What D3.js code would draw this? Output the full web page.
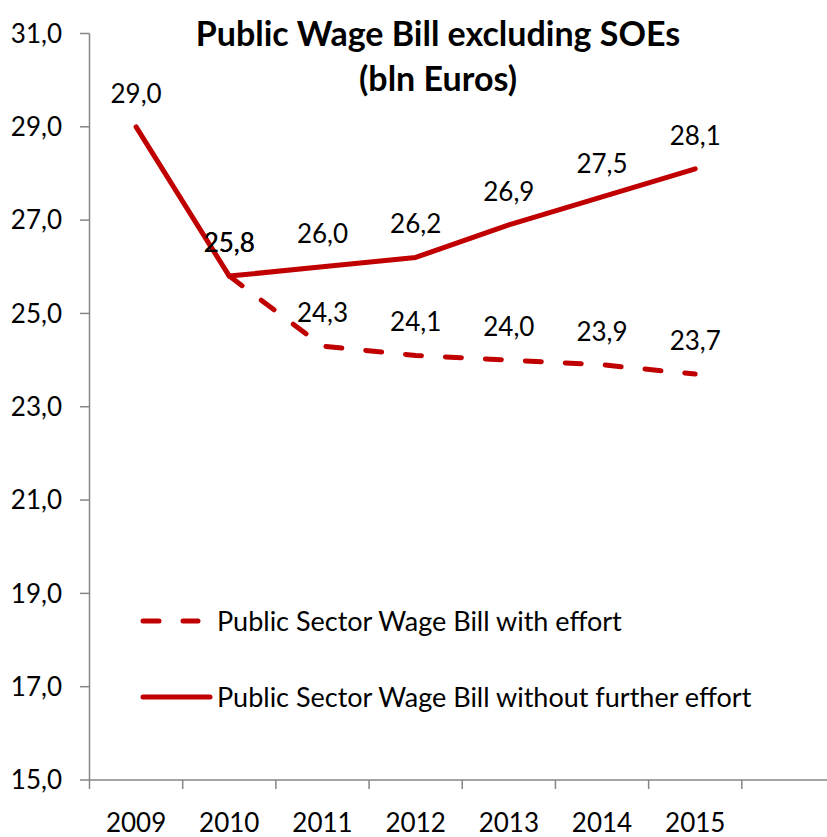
<!DOCTYPE html>
<html>
<head>
<meta charset="utf-8">
<script src="https://cdn.jsdelivr.net/npm/d3@7"></script>
<style>
  html, body { margin: 0; padding: 0; background: #fff; }
  svg { display: block; }
  text { font-family: Lato, "Open Sans", sans-serif; fill: #000; }
</style>
</head>
<body>
<svg id="chart" width="827" height="837"></svg>
<script>
// Public wage bill, billions of euros
const years = ["2009", "2010", "2011", "2012", "2013", "2014", "2015"];
const slots = years.concat([""]);           // trailing empty category slot on the axis
const withoutEffort = [29.0, 25.8, 26.0, 26.2, 26.9, 27.5, 28.1];
const withEffort = [null, 25.8, 24.3, 24.1, 24.0, 23.9, 23.7];
const yTicks = [15, 17, 19, 21, 23, 25, 27, 29, 31];
const seriesNames = ["Public Sector Wage Bill with effort", "Public Sector Wage Bill without further effort"];
const titleLines = ["Public Wage Bill excluding SOEs", "(bln Euros)"];

const red = "#c00000";
const axisGrey = "#868686";
const fmt = v => v.toFixed(1).replace(".", ",");

const svg = d3.select("#chart");

const x = d3.scaleBand().domain(slots).range([89.5, 835]).padding(0);
const y = d3.scaleLinear().domain([15, 31]).range([780, 33.5]);
const cx = d => x(d) + x.bandwidth() / 2;

// Y axis
const yAxis = svg.append("g");
yAxis.append("line")
  .attr("x1", 89.5).attr("x2", 89.5)
  .attr("y1", y(31)).attr("y2", y(15))
  .attr("stroke", axisGrey).attr("stroke-width", 1.5);
yAxis.selectAll("line.tick").data(yTicks).join("line")
  .attr("class", "tick")
  .attr("x1", 80).attr("x2", 89.5)
  .attr("y1", d => y(d)).attr("y2", d => y(d))
  .attr("stroke", axisGrey).attr("stroke-width", 1.5);
yAxis.selectAll("text").data(yTicks).join("text")
  .attr("x", 62).attr("y", d => y(d))
  .attr("dy", "0.36em")
  .attr("text-anchor", "end")
  .style("font-size", "26px")
  .text(fmt);

// X axis
const xAxis = svg.append("g");
xAxis.append("line")
  .attr("x1", 89.5).attr("x2", 835)
  .attr("y1", y(15)).attr("y2", y(15))
  .attr("stroke", axisGrey).attr("stroke-width", 1.5);
xAxis.selectAll("line.tick").data(slots).join("line")
  .attr("class", "tick")
  .attr("x1", d => x(d)).attr("x2", d => x(d))
  .attr("y1", y(15)).attr("y2", y(15) + 9)
  .attr("stroke", axisGrey).attr("stroke-width", 1.5);
xAxis.selectAll("text").data(years).join("text")
  .attr("x", d => cx(d)).attr("y", 832)
  .attr("text-anchor", "middle")
  .style("font-size", "26px")
  .text(d => d);

// Lines
const line = d3.line()
  .defined(d => d.v != null)
  .x(d => cx(d.year))
  .y(d => y(d.v));

const solidPts = years.map((yr, i) => ({ year: yr, v: withoutEffort[i] }));
const dashPts = years.map((yr, i) => ({ year: yr, v: withEffort[i] }));

svg.append("path").datum(dashPts)
  .attr("d", line)
  .attr("fill", "none").attr("stroke", red).attr("stroke-width", 5)
  .attr("stroke-dasharray", "16,24")
  .attr("stroke-linecap", "round").attr("stroke-linejoin", "round");

svg.append("path").datum(solidPts)
  .attr("d", line)
  .attr("fill", "none").attr("stroke", red).attr("stroke-width", 5)
  .attr("stroke-linecap", "round").attr("stroke-linejoin", "round");

// Data labels
const labelGroup = svg.append("g").style("font-size", "26px");
[solidPts, dashPts].forEach(pts => {
  labelGroup.append("g").selectAll("text")
    .data(pts.filter(d => d.v != null)).join("text")
    .attr("x", d => cx(d.year))
    .attr("y", d => y(d.v) - 24)
    .attr("text-anchor", "middle")
    .text(d => fmt(d.v));
});

// Title
svg.append("g").selectAll("text").data(titleLines).join("text")
  .attr("x", 438).attr("y", (d, i) => 46 + i * 45)
  .attr("text-anchor", "middle")
  .style("font-size", "34px").style("font-weight", "bold")
  .text(d => d);

// Legend
const legend = svg.append("g");
const legendRows = [
  { name: seriesNames[0], dash: "16,24", y: 621 },
  { name: seriesNames[1], dash: null, y: 697 }
];
legendRows.forEach(r => {
  legend.append("line")
    .attr("x1", 143).attr("x2", r.dash ? 198 : 210)
    .attr("y1", r.y).attr("y2", r.y)
    .attr("stroke", red).attr("stroke-width", 5)
    .attr("stroke-linecap", "round")
    .attr("stroke-dasharray", r.dash);
  legend.append("text")
    .attr("x", 217).attr("y", r.y)
    .attr("dy", "0.36em")
    .style("font-size", "27px")
    .text(r.name);
});
</script>
</body>
</html>
